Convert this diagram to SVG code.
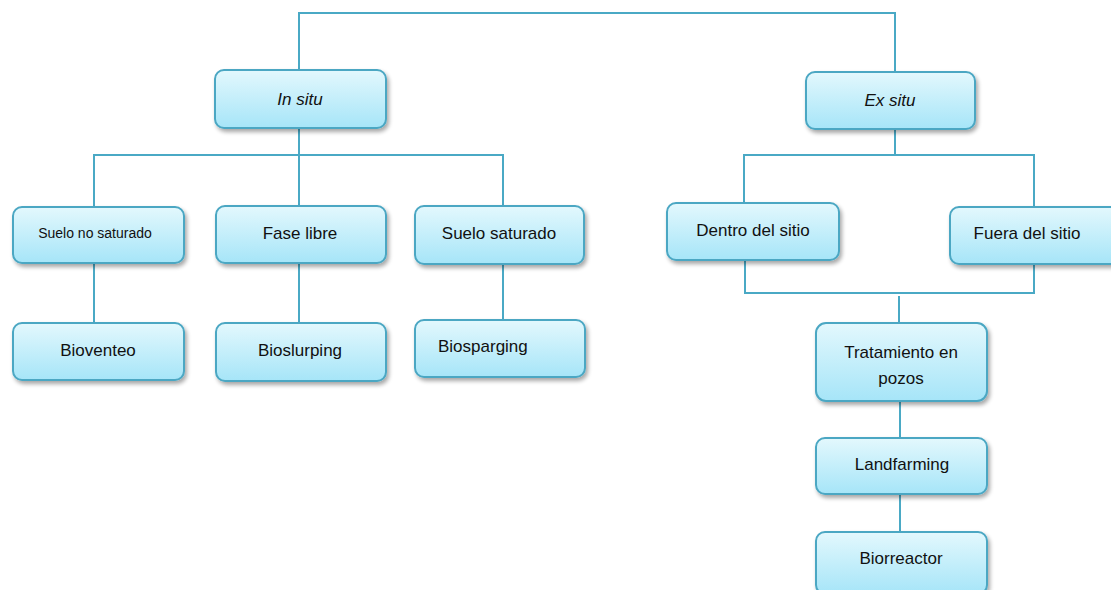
<svg xmlns="http://www.w3.org/2000/svg" width="1111" height="590" viewBox="0 0 1111 590">
<defs>
<linearGradient id="g" x1="0" y1="0" x2="0" y2="1">
<stop offset="0" stop-color="#e3f8fd"/>
<stop offset="1" stop-color="#a6e5f8"/>
</linearGradient>
<filter id="sh" x="-10%" y="-10%" width="125%" height="135%">
<feGaussianBlur in="SourceAlpha" stdDeviation="2"/>
<feOffset dx="2" dy="3" result="b"/>
<feComponentTransfer><feFuncA type="linear" slope="0.35"/></feComponentTransfer>
<feMerge><feMergeNode/><feMergeNode in="SourceGraphic"/></feMerge>
</filter>
</defs>
<style>
.box{fill:url(#g);stroke:#4ba7c3;stroke-width:2;filter:url(#sh)}
.t{font-family:"Liberation Sans",Arial,sans-serif;font-size:17px;fill:#111;text-anchor:middle}
.c{fill:none;stroke:#4aa9c5;stroke-width:2}
</style>
<g id="connectors">
<path class="c" d="M299 70 V13 H895 V72"/>
<path class="c" d="M299 128 V155 M94 207 V155 H503 V206 M299 155 V206"/>
<path class="c" d="M895 129 V155 M744 203 V155 H1034 V207"/>
<path class="c" d="M94 263 V323 M299 263 V323 M503 264 V320"/>
<path class="c" d="M745 260 V293 H1034 V264 M899 296 V323"/>
<path class="c" d="M900 401 V438 M900 494 V532"/>
</g>
<g id="in-situ"><rect class="box" x="215" y="70" width="171" height="58" rx="9"/><text class="t" x="300" y="105" font-style="italic">In situ</text></g>
<g id="ex-situ"><rect class="box" x="806" y="72" width="169" height="57" rx="9"/><text class="t" x="890" y="106" font-style="italic">Ex situ</text></g>
<g id="suelo-no-saturado"><rect class="box" x="13" y="207" width="171" height="56" rx="9"/><text class="t" x="95" y="238" style="font-size:14px">Suelo no saturado</text></g>
<g id="fase-libre"><rect class="box" x="216" y="206" width="170" height="57" rx="9"/><text class="t" x="300" y="239">Fase libre</text></g>
<g id="suelo-saturado"><rect class="box" x="415" y="206" width="169" height="58" rx="9"/><text class="t" x="499" y="239">Suelo saturado</text></g>
<g id="bioventeo"><rect class="box" x="13" y="323" width="171" height="57" rx="9"/><text class="t" x="98" y="356">Bioventeo</text></g>
<g id="bioslurping"><rect class="box" x="216" y="323" width="170" height="58" rx="9"/><text class="t" x="300" y="356">Bioslurping</text></g>
<g id="biosparging"><rect class="box" x="415" y="320" width="170" height="57" rx="9"/><text class="t" x="438" y="352" style="text-anchor:start">Biosparging</text></g>
<g id="dentro-del-sitio"><rect class="box" x="667" y="203" width="172" height="57" rx="9"/><text class="t" x="753" y="236">Dentro del sitio</text></g>
<g id="fuera-del-sitio"><rect class="box" x="950" y="207" width="172" height="57" rx="9"/><text class="t" x="1027" y="239">Fuera del sitio</text></g>
<g id="tratamiento-en-pozos"><rect class="box" x="816" y="323" width="171" height="78" rx="10"/><text class="t" x="901" y="358">Tratamiento en</text><text class="t" x="901" y="384">pozos</text></g>
<g id="landfarming"><rect class="box" x="816" y="438" width="171" height="56" rx="9"/><text class="t" x="902" y="470">Landfarming</text></g>
<g id="biorreactor"><rect class="box" x="816" y="532" width="171" height="62" rx="9"/><text class="t" x="901" y="564">Biorreactor</text></g>
</svg>
